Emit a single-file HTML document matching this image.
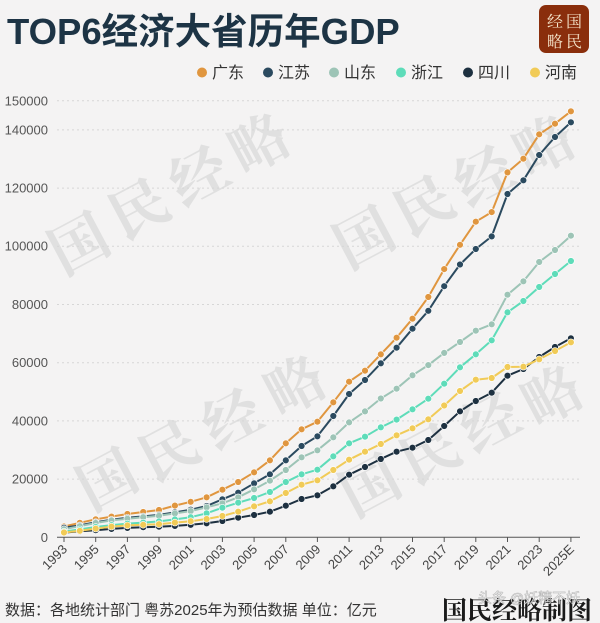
<!DOCTYPE html>
<html>
<head>
<meta charset="utf-8">
<style>
html,body{margin:0;padding:0;background:#f4f3f3;}
svg{display:block;}
text{font-family:"Liberation Sans","Noto Sans CJK SC",sans-serif;}
text.serif{font-family:"Noto Serif CJK SC","Liberation Serif",serif;}
</style>
</head>
<body>
<svg width="600" height="623" viewBox="0 0 600 623" xmlns="http://www.w3.org/2000/svg">
<defs>
<marker id="mGD" markerUnits="userSpaceOnUse" markerWidth="10" markerHeight="10" refX="5" refY="5"><circle cx="5" cy="5" r="3.4" fill="#e0963f" stroke="#fff" stroke-width="0.6"/></marker>
<marker id="mJS" markerUnits="userSpaceOnUse" markerWidth="10" markerHeight="10" refX="5" refY="5"><circle cx="5" cy="5" r="3.4" fill="#2b4a5f" stroke="#fff" stroke-width="0.6"/></marker>
<marker id="mSD" markerUnits="userSpaceOnUse" markerWidth="10" markerHeight="10" refX="5" refY="5"><circle cx="5" cy="5" r="3.4" fill="#9dc4b6" stroke="#fff" stroke-width="0.6"/></marker>
<marker id="mZJ" markerUnits="userSpaceOnUse" markerWidth="10" markerHeight="10" refX="5" refY="5"><circle cx="5" cy="5" r="3.4" fill="#5edcb9" stroke="#fff" stroke-width="0.6"/></marker>
<marker id="mSC" markerUnits="userSpaceOnUse" markerWidth="10" markerHeight="10" refX="5" refY="5"><circle cx="5" cy="5" r="3.4" fill="#1d3040" stroke="#fff" stroke-width="0.6"/></marker>
<marker id="mHN" markerUnits="userSpaceOnUse" markerWidth="10" markerHeight="10" refX="5" refY="5"><circle cx="5" cy="5" r="3.4" fill="#f1cb57" stroke="#fff" stroke-width="0.6"/></marker>
</defs>
<rect width="600" height="623" fill="#f4f3f3"/>

<!-- background watermarks -->
<g font-size="58" font-weight="bold" fill="#e0e0e0" text-anchor="middle" dominant-baseline="central">
<text class="serif" transform="translate(77,240) rotate(-28)">国</text>
<text class="serif" transform="translate(137,205) rotate(-28)">民</text>
<text class="serif" transform="translate(197,172) rotate(-28)">经</text>
<text class="serif" transform="translate(257,140) rotate(-28)">略</text>
<text class="serif" transform="translate(362,234) rotate(-28)">国</text>
<text class="serif" transform="translate(422,202) rotate(-28)">民</text>
<text class="serif" transform="translate(482,172) rotate(-28)">经</text>
<text class="serif" transform="translate(542,142) rotate(-28)">略</text>
<text class="serif" transform="translate(105,476) rotate(-28)">国</text>
<text class="serif" transform="translate(167,447) rotate(-28)">民</text>
<text class="serif" transform="translate(230,415) rotate(-28)">经</text>
<text class="serif" transform="translate(293,382) rotate(-28)">略</text>
<text class="serif" transform="translate(368,482) rotate(-28)">国</text>
<text class="serif" transform="translate(428,450) rotate(-28)">民</text>
<text class="serif" transform="translate(488,418) rotate(-28)">经</text>
<text class="serif" transform="translate(550,392) rotate(-28)">略</text>
</g>

<!-- title -->
<text x="7" y="44" font-size="36.5" font-weight="bold" fill="#1d3445">TOP6经济大省历年GDP</text>

<!-- logo -->
<rect x="539" y="5" width="50" height="48" rx="7" fill="#8a2e0c"/>
<g font-size="16" fill="#f5e6cc" text-anchor="middle">
<text class="serif" x="555" y="27">经</text>
<text class="serif" x="574" y="27">国</text>
<text class="serif" x="555" y="47">略</text>
<text class="serif" x="574" y="47">民</text>
</g>

<!-- legend -->
<g font-size="16" fill="#333">
<circle cx="202" cy="72.5" r="5" fill="#e0963f"/><text x="212" y="78">广东</text>
<circle cx="268" cy="72.5" r="5" fill="#2b4a5f"/><text x="278" y="78">江苏</text>
<circle cx="334" cy="72.5" r="5" fill="#9dc4b6"/><text x="344" y="78">山东</text>
<circle cx="401" cy="72.5" r="5" fill="#5edcb9"/><text x="411" y="78">浙江</text>
<circle cx="468" cy="72.5" r="5" fill="#1d3040"/><text x="478" y="78">四川</text>
<circle cx="535" cy="72.5" r="5" fill="#f1cb57"/><text x="545" y="78">河南</text>
</g>

<!-- grid -->
<g stroke="#d6d6d6" stroke-width="1" stroke-dasharray="2,3">
<line x1="57" x2="580" y1="100.8" y2="100.8"/>
<line x1="57" x2="580" y1="129.9" y2="129.9"/>
<line x1="57" x2="580" y1="188.1" y2="188.1"/>
<line x1="57" x2="580" y1="246.3" y2="246.3"/>
<line x1="57" x2="580" y1="304.5" y2="304.5"/>
<line x1="57" x2="580" y1="362.7" y2="362.7"/>
<line x1="57" x2="580" y1="420.9" y2="420.9"/>
<line x1="57" x2="580" y1="479.1" y2="479.1"/>
</g>

<!-- y labels -->
<g font-size="13" fill="#555" text-anchor="end">
<text x="48" y="105.5">150000</text>
<text x="48" y="134.5">140000</text>
<text x="48" y="192.5">120000</text>
<text x="48" y="250.5">100000</text>
<text x="48" y="309">80000</text>
<text x="48" y="367">60000</text>
<text x="48" y="425.5">40000</text>
<text x="48" y="483.5">20000</text>
<text x="48" y="542">0</text>
</g>

<!-- x axis -->
<line x1="57" x2="580" y1="537.3" y2="537.3" stroke="#555" stroke-width="1"/>
<g stroke="#555" stroke-width="1">
<line x1="64" x2="64" y1="537" y2="542"/>
<line x1="95.7" x2="95.7" y1="537" y2="542"/>
<line x1="127.4" x2="127.4" y1="537" y2="542"/>
<line x1="159" x2="159" y1="537" y2="542"/>
<line x1="190.7" x2="190.7" y1="537" y2="542"/>
<line x1="222.4" x2="222.4" y1="537" y2="542"/>
<line x1="254.1" x2="254.1" y1="537" y2="542"/>
<line x1="285.8" x2="285.8" y1="537" y2="542"/>
<line x1="317.4" x2="317.4" y1="537" y2="542"/>
<line x1="349.1" x2="349.1" y1="537" y2="542"/>
<line x1="380.8" x2="380.8" y1="537" y2="542"/>
<line x1="412.5" x2="412.5" y1="537" y2="542"/>
<line x1="444.2" x2="444.2" y1="537" y2="542"/>
<line x1="475.8" x2="475.8" y1="537" y2="542"/>
<line x1="507.5" x2="507.5" y1="537" y2="542"/>
<line x1="539.2" x2="539.2" y1="537" y2="542"/>
<line x1="570.9" x2="570.9" y1="537" y2="542"/>
</g>
<g font-size="13" fill="#444" text-anchor="end">
<text transform="translate(68,550) rotate(-45)">1993</text>
<text transform="translate(99.7,550) rotate(-45)">1995</text>
<text transform="translate(131.4,550) rotate(-45)">1997</text>
<text transform="translate(163,550) rotate(-45)">1999</text>
<text transform="translate(194.7,550) rotate(-45)">2001</text>
<text transform="translate(226.4,550) rotate(-45)">2003</text>
<text transform="translate(258.1,550) rotate(-45)">2005</text>
<text transform="translate(289.8,550) rotate(-45)">2007</text>
<text transform="translate(321.4,550) rotate(-45)">2009</text>
<text transform="translate(353.1,550) rotate(-45)">2011</text>
<text transform="translate(384.8,550) rotate(-45)">2013</text>
<text transform="translate(416.5,550) rotate(-45)">2015</text>
<text transform="translate(448.2,550) rotate(-45)">2017</text>
<text transform="translate(479.8,550) rotate(-45)">2019</text>
<text transform="translate(511.5,550) rotate(-45)">2021</text>
<text transform="translate(543.2,550) rotate(-45)">2023</text>
<text transform="translate(574.9,550) rotate(-45)">2025E</text>
</g>

<!-- series -->
<g fill="none" stroke-width="2" stroke-linejoin="round">
<polyline stroke="#e0963f" marker-start="url(#mGD)" marker-mid="url(#mGD)" marker-end="url(#mGD)" points="64,526.5 79.8,522.8 95.7,519.3 111.5,516.6 127.4,514 143.2,512 159,510 174.9,505.6 190.7,501.8 206.6,497.3 222.4,489.7 238.2,482 254.1,472.3 269.9,460.3 285.8,443.3 301.6,429.3 317.4,421.7 333.3,402.3 349.1,381.7 365,370.7 380.8,354.3 396.6,337.7 412.5,318.7 428.3,297 444.2,269.1 460,244.8 475.8,221.7 491.7,212.1 507.5,172.4 523.4,158.7 539.2,134.3 555,123.7 570.9,111.3"/>
<polyline stroke="#2b4a5f" marker-start="url(#mJS)" marker-mid="url(#mJS)" marker-end="url(#mJS)" points="64,527.7 79.8,525.4 95.7,522.2 111.5,519.8 127.4,517.8 143.2,516.4 159,514.9 174.9,512.3 190.7,509.7 206.6,506 222.4,499.3 238.2,492.7 254.1,483.3 269.9,474.3 285.8,460.3 301.6,446 317.4,436.3 333.3,416 349.1,394 365,380 380.8,363.3 396.6,347.7 412.5,328.7 428.3,310.8 444.2,286.2 460,264.5 475.8,249 491.7,236.4 507.5,194 523.4,180.3 539.2,155 555,137 570.9,122.3"/>
<polyline stroke="#9dc4b6" marker-start="url(#mSD)" marker-mid="url(#mSD)" marker-end="url(#mSD)" points="64,529.2 79.8,526.2 95.7,523 111.5,520.4 127.4,518.7 143.2,517.2 159,515.8 174.9,513.4 190.7,511.1 206.6,507.3 222.4,503.3 238.2,497.3 254.1,489.3 269.9,480.7 285.8,470 301.6,457.3 317.4,450.3 333.3,437.3 349.1,422.4 365,411.4 380.8,398.5 396.6,388.7 412.5,375.3 428.3,365.1 444.2,352.9 460,342 475.8,330.7 491.7,324.3 507.5,294.7 523.4,281.3 539.2,262 555,250 570.9,235.7"/>
<polyline stroke="#5edcb9" marker-start="url(#mZJ)" marker-mid="url(#mZJ)" marker-end="url(#mZJ)" points="64,531.6 79.8,529.4 95.7,527 111.5,525.1 127.4,523.6 143.2,522.6 159,521.4 174.9,519.4 190.7,517.2 206.6,513.3 222.4,507.7 238.2,502.7 254.1,498 269.9,492 285.8,482 301.6,474.3 317.4,469.7 333.3,456.3 349.1,443.3 365,436.7 380.8,427.3 396.6,419.6 412.5,409.3 428.3,398.7 444.2,383.7 460,367.3 475.8,354.3 491.7,340.3 507.5,312.3 523.4,301 539.2,287 555,274 570.9,261"/>
<polyline stroke="#1d3040" marker-start="url(#mSC)" marker-mid="url(#mSC)" marker-end="url(#mSC)" points="64,532.6 79.8,531.3 95.7,530.2 111.5,528.9 127.4,527.9 143.2,527.2 159,526.7 174.9,525.9 190.7,524.8 206.6,523.3 222.4,521 238.2,517.7 254.1,515 269.9,511.7 285.8,505.7 301.6,499 317.4,495.3 333.3,486.3 349.1,474.7 365,467 380.8,459 396.6,451.7 412.5,447.7 428.3,440 444.2,426 460,411.3 475.8,401 491.7,392.7 507.5,375.7 523.4,369 539.2,357 555,347 570.9,338.3"/>
<polyline stroke="#f1cb57" marker-start="url(#mHN)" marker-mid="url(#mHN)" marker-end="url(#mHN)" points="64,532.5 79.8,530.8 95.7,528.6 111.5,526.6 127.4,525.4 143.2,524.8 159,524.2 174.9,522.6 190.7,521.2 206.6,519 222.4,516 238.2,511.7 254.1,506.3 269.9,501.3 285.8,493 301.6,484.7 317.4,480.3 333.3,470 349.1,459.7 365,451.7 380.8,444 396.6,435.3 412.5,428.3 428.3,419.3 444.2,405.5 460,391 475.8,379.7 491.7,378 507.5,367 523.4,366.7 539.2,359.3 555,351 570.9,342.3"/>
</g>

<!-- footer -->
<text x="5" y="615" font-size="15" fill="#333">数据：各地统计部门  粤苏2025年为预估数据 单位：亿元</text>
<text class="serif" x="592" y="619" font-size="25" font-weight="bold" fill="#1a1a1a" text-anchor="end">国民经略制图</text>
<text x="478" y="603" font-size="14" fill="#ffffff" fill-opacity="0.9" stroke="#666" stroke-opacity="0.45" stroke-width="0.6">头条 @妖精不妖</text>
</svg>
</body>
</html>
